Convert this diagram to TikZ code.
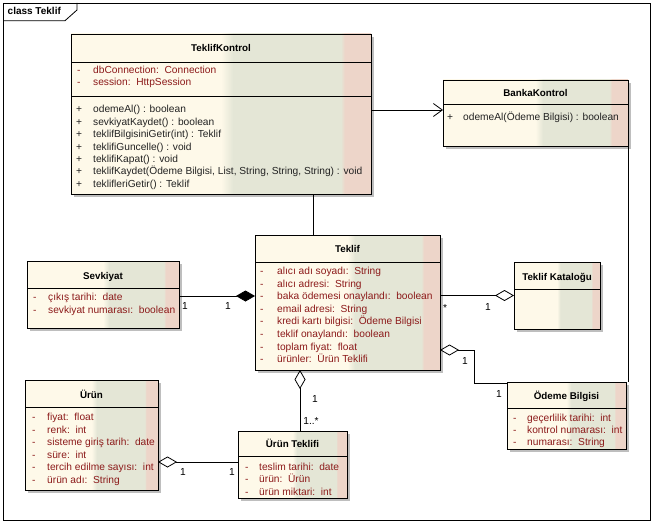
\documentclass[tikz,border=0pt]{standalone}
\usepackage{fontspec}
\setmainfont{Liberation Sans}
\usetikzlibrary{arrows.meta,calc,shadows}
\definecolor{ucream}{HTML}{FEF9E9}
\definecolor{ugreen}{HTML}{E4E6D6}
\definecolor{upink}{HTML}{EDD5C9}
\definecolor{uattr}{HTML}{8C1A1A}
\definecolor{uop}{HTML}{222222}
\definecolor{ushadow}{HTML}{BEBEBE}
\pgfdeclarehorizontalshading{umlfill}{100bp}{color(0bp)=(ucream); color(50bp)=(ucream); color(52bp)=(ugreen); color(70bp)=(ugreen); color(70.6bp)=(upink); color(100bp)=(upink)}
\tikzset{
  classbox/.style={draw=black, line width=0.8pt, shade, shading=umlfill, inner sep=0pt, outer sep=0pt, anchor=north west,
    drop shadow={shadow xshift=3pt, shadow yshift=-3pt, fill=ushadow, opacity=1}},
  divline/.style={draw=black, line width=0.8pt},
  rowtext/.style={anchor=west, inner sep=0pt, text height=7pt, text depth=2pt},
  attrrow/.style={text=uattr},
  oprow/.style={text=uop},
  titletext/.style={inner sep=0pt, text height=7pt, text depth=2pt, font=\bfseries\fontsize{9.8}{12}\selectfont},
  conn/.style={draw=black, line width=0.8pt},
  mult/.style={inner sep=0pt, text height=7pt, text depth=2pt},
  odia/.tip={Diamond[open, length=19pt, width=11pt]},
  fdia/.tip={Diamond[length=19pt, width=11pt]},
}
\newcommand\udiv[2]{\draw[divline] ([yshift=-#2pt]#1.north west) -- ([yshift=-#2pt]#1.north east);}
\newcommand\urows[9]{%
  \foreach \t [count=\i] in {#9}{%
    \pgfmathsetmacro\yy{#5+(\i-1)*#6}%
    \node[rowtext,#8] (#2s\i) at ($(#1.north west)+(#3,\yy)$) {#7};
    \node[rowtext,#8] (#2t\i) at ($(#1.north west)+(#4,\yy)$) {\t};
  }}
\begin{document}
\begin{tikzpicture}[x=1pt,y=-1pt, every node/.style={font=\fontsize{10.2}{12}\selectfont}]
\useasboundingbox (0,0) rectangle (653,524);
% frame
\draw[conn] (3,3) rectangle (650,520);
\draw[conn] (3,20.7) -- (65,20.7) -- (77,10) -- (77,3);
\node[anchor=west, inner sep=0pt, text height=7pt, text depth=2pt, font=\bfseries\fontsize{10}{12}\selectfont] (frametitle) at (7.5,12) {class Teklif};

% TeklifKontrol
\node[classbox, minimum width=300pt, minimum height=160pt] (tk) at (71,34) {};
\udiv{tk}{28}\udiv{tk}{62}
\node[titletext] (tkT) at ($(tk.north)+(0,15)$) {TeklifKontrol};
\urows{tk}{tka}{6}{22}{37.5}{12}{-}{attrrow}{dbConnection:\ \ Connection, session:\ \ HttpSession}
\urows{tk}{tko}{5}{22}{76}{12.5}{+}{oprow}{odemeAl() : boolean, sevkiyatKaydet() : boolean, teklifBilgisiniGetir(int) : Teklif, teklifiGuncelle() : void, teklifiKapat() : void, {teklifKaydet(Ödeme Bilgisi, List, String, String, String) : void}, teklifleriGetir() : Teklif}

% BankaKontrol
\node[classbox, minimum width=185pt, minimum height=66pt] (bk) at (443,80) {};
\udiv{bk}{24.5}
\node[titletext] (bkT) at ($(bk.north)+(0,14)$) {BankaKontrol};
\urows{bk}{bko}{4}{20}{38.5}{12.5}{+}{oprow}{odemeAl(Ödeme Bilgisi) : boolean}

% Teklif
\node[classbox, minimum width=185pt, minimum height=135pt] (tek) at (255,235) {};
\udiv{tek}{27}
\node[titletext] (tekT) at ($(tek.north)+(0,15)$) {Teklif};
\urows{tek}{teka}{5}{22}{37}{12.6}{-}{attrrow}{alıcı adı soyadı:\ \ String, alıcı adresi:\ \ String, baka ödemesi onaylandı:\ \ boolean, email adresi:\ \ String, kredi kartı bilgisi:\ \ Ödeme Bilgisi, teklif onaylandı:\ \ boolean, toplam fiyat:\ \ float, ürünler:\ \ Ürün Teklifi}

% Sevkiyat
\node[classbox, minimum width=152pt, minimum height=67pt] (sev) at (27,261) {};
\udiv{sev}{27}
\node[titletext] (sevT) at ($(sev.north)+(0,16)$) {Sevkiyat};
\urows{sev}{seva}{6}{21}{37}{12.6}{-}{attrrow}{çıkış tarihi:\ \ date, sevkiyat numarası:\ \ boolean}

% Teklif Katalogu
\node[classbox, minimum width=86pt, minimum height=67pt] (kat) at (514,262) {};
\udiv{kat}{27}
\node[titletext] (katT) at ($(kat.north)+(0,16)$) {Teklif Kataloğu};

% Odeme Bilgisi
\node[classbox, minimum width=119pt, minimum height=67pt] (ob) at (507,382) {};
\udiv{ob}{26}
\node[titletext] (obT) at ($(ob.north)+(0,15)$) {Ödeme Bilgisi};
\urows{ob}{oba}{6}{20}{37}{12}{-}{attrrow}{geçerlilik tarihi:\ \ int, kontrol numarası:\ \ int, numarası:\ \ String}

% Urun
\node[classbox, minimum width=133pt, minimum height=110pt] (ur) at (25,380) {};
\udiv{ur}{27}
\node[titletext] (urT) at ($(ur.north)+(0,16)$) {Ürün};
\urows{ur}{ura}{7}{22}{38}{12.6}{-}{attrrow}{fiyat:\ \ float, renk:\ \ int, sisteme giriş tarih:\ \ date, süre:\ \ int, tercih edilme sayısı:\ \ int, ürün adı:\ \ String}

% Urun Teklifi
\node[classbox, minimum width=109pt, minimum height=67pt] (ut) at (238,431) {};
\udiv{ut}{25}
\node[titletext] (utT) at ($(ut.north)+(0,14)$) {Ürün Teklifi};
\urows{ut}{uta}{7}{21}{36.5}{12.5}{-}{attrrow}{teslim tarihi:\ \ date, ürün:\ \ Ürün, ürün miktari:\ \ int}

% connectors
\coordinate (bkIn) at ([yshift=3pt]bk.west);
\draw[conn, -{Straight Barb[length=9pt, width=13pt]}] (tk.east |- bkIn) -- (bkIn);
\coordinate (tekTop) at ([xshift=58pt]tek.north west);
\draw[conn] (tekTop |- tk.south) -- (tekTop);
\coordinate (sevOut) at ([yshift=-1.5pt]sev.east);
\draw[conn, -fdia] (sevOut) -- (sevOut -| tek.west);
\draw[conn, -odia] (tek.east |- kat.west) -- (kat.west);
\coordinate (tekOB) at ([yshift=-47.5pt]tek.east);
\coordinate (obIn) at ([yshift=32pt]ob.west);
\draw[conn, odia-] (tekOB) -- ++(34,0) |- (obIn);
\draw[conn] (bk.south east) -- (bk.south east |- ob.north);
\coordinate (utTop) at ([xshift=7.5pt]ut.north);
\draw[conn, odia-] (utTop |- tek.south) -- (utTop);
\coordinate (utIn) at ([yshift=2.5pt]ut.west);
\draw[conn, odia-] (ur.east |- utIn) -- (utIn);

% multiplicities
\node[mult] (m1) at (185,307) {1};
\node[mult] (m2) at (228,307) {1};
\node[mult] (m3) at (445,309) {*};
\node[mult] (m4) at (488,308) {1};
\node[mult] (m5) at (465,362) {1};
\node[mult] (m6) at (499,395) {1};
\node[mult] (m7) at (315,400) {1};
\node[mult] (m8) at (311,422) {1..*};
\node[mult] (m9) at (183,473) {1};
\node[mult] (m10) at (232,473) {1};
\end{tikzpicture}
\end{document}
